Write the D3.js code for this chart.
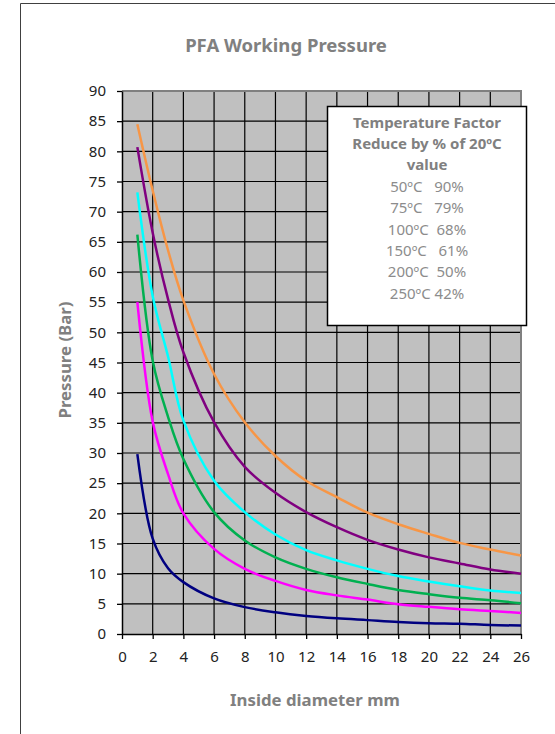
<!DOCTYPE html>
<html><head><meta charset="utf-8">
<script src="https://cdn.jsdelivr.net/npm/d3@7"></script>
<style>
body{margin:0;background:#fff;}
text{font-family:"Noto Sans",sans-serif;}
</style></head>
<body><svg id="c" width="555" height="734"></svg>
<script>
const diameters = [1,2,3,4,6,8,10,12,14,16,18,20,22,24,26];
const orangeSeries  = [84.5,73.5,63.6,55.3,43.1,35.1,29.5,25.4,22.7,20.1,18.2,16.6,15.1,14.0,13.0];
const purpleSeries  = [80.7,66.5,55.5,46.7,35.1,27.7,23.4,20.2,17.7,15.6,14.0,12.7,11.7,10.7,10.0];
const cyanSeries    = [73.2,56.0,46.0,35.4,25.4,20.2,16.5,13.9,12.2,10.8,9.6,8.7,7.9,7.2,6.8];
const greenSeries   = [66.2,45.3,36.0,29.0,20.2,15.5,12.7,10.8,9.4,8.3,7.3,6.6,6.0,5.6,5.1];
const magentaSeries = [55.0,35.2,26.5,20.0,14.1,10.8,8.8,7.3,6.4,5.7,4.95,4.5,4.1,3.8,3.5];
const navySeries    = [29.8,15.8,10.9,8.6,5.9,4.45,3.6,3.0,2.6,2.3,2.0,1.8,1.7,1.5,1.4];
const seriesColors  = ["#f79646","#800080","#00ffff","#00b050","#ff00ff","#000080"];
const xTicks = d3.range(0,27,2);
const yTicks = d3.range(0,91,5);
const chartTitle = "PFA Working Pressure";
const xTitle = "Inside diameter mm";
const yTitle = "Pressure (Bar)";
const legendHeader = ["Temperature Factor","Reduce by % of 20ºC","value"];
const legendRows = ["50ºC   90%","75ºC   79%","100ºC  68%","150ºC   61%","200ºC  50%","250ºC 42%"];

const svg = d3.select("#c");
const L=122,R=521,T=91,B=634;
const x = d3.scaleLinear().domain([0,26]).range([L,R]);
const y = d3.scaleLinear().domain([0,90]).range([B,T]);

// outer frame
svg.append("path").attr("d","M20.5,734 V3.5 H555").attr("fill","none").attr("stroke","#404040").attr("stroke-width",1);

svg.append("text").attr("x",286).attr("y",52).attr("text-anchor","middle")
  .attr("font-size",18.5).attr("font-weight","bold").attr("fill","#808080").text(chartTitle);

svg.append("rect").attr("x",L).attr("y",T).attr("width",R-L).attr("height",B-T).attr("fill","#c0c0c0");

// grid
svg.append("g").selectAll("line").data(xTicks.filter(d=>d>0&&d<26)).join("line")
  .attr("x1",d=>x(d)).attr("x2",d=>x(d)).attr("y1",T).attr("y2",B).attr("stroke","#000").attr("stroke-width",1.2);
svg.append("g").selectAll("line").data(yTicks.filter(d=>d>0&&d<90)).join("line")
  .attr("y1",d=>y(d)).attr("y2",d=>y(d)).attr("x1",L).attr("x2",R).attr("stroke","#000").attr("stroke-width",1.2);
// top/right border
svg.append("path").attr("d",`M${L},${T} H${R} V${B}`).attr("fill","none").attr("stroke","#808080").attr("stroke-width",2);

// axes
const xa = svg.append("g").attr("transform",`translate(0,${B})`)
  .call(d3.axisBottom(x).tickValues(xTicks).tickSize(5).tickPadding(12).tickSizeOuter(0));
const ya = svg.append("g").attr("transform",`translate(${L},0)`)
  .call(d3.axisLeft(y).tickValues(yTicks).tickSize(5).tickPadding(11).tickSizeOuter(0));
[xa,ya].forEach(g=>{
  g.select(".domain").attr("stroke","#000").attr("stroke-width",1.5);
  g.selectAll(".tick line").attr("stroke","#000").attr("stroke-width",1.3);
  g.selectAll("text").attr("font-family","Noto Sans").attr("font-size",15).attr("fill","#222");
});

// curves
const allSeries=[orangeSeries,purpleSeries,cyanSeries,greenSeries,magentaSeries,navySeries];
const line = d3.line().x((d,i)=>x(diameters[i])).y(d=>y(d)).curve(d3.curveCatmullRom.alpha(0.5));
svg.append("g").selectAll("path").data(allSeries.slice().reverse()).join("path")
  .attr("d",d=>line(d)).attr("fill","none")
  .attr("stroke",(d,i)=>seriesColors[allSeries.length-1-i]).attr("stroke-width",2.5);

// axis titles
svg.append("text").attr("x",315).attr("y",706).attr("text-anchor","middle")
  .attr("font-size",16.8).attr("font-weight","bold").attr("fill","#808080").text(xTitle);
svg.append("text").attr("transform","translate(71,360) rotate(-90)").attr("text-anchor","middle")
  .attr("font-size",16.8).attr("font-weight","bold").attr("fill","#808080").text(yTitle);

// legend box
svg.append("rect").attr("x",327.5).attr("y",106.5).attr("width",199).attr("height",219)
  .attr("fill","#fff").attr("stroke","#000").attr("stroke-width",1.5);
const lg = svg.append("g");
lg.selectAll("text.h").data(legendHeader).join("text").attr("class","h")
  .attr("x",427).attr("y",(d,i)=>128+i*21).attr("text-anchor","middle")
  .attr("font-size",15).attr("font-weight","bold").attr("fill","#808080").text(d=>d);
lg.selectAll("text.r").data(legendRows).join("text").attr("class","r")
  .attr("x",427).attr("y",(d,i)=>192+i*21.3).attr("text-anchor","middle")
  .style("white-space","pre").attr("font-size",15).attr("fill","#8c8c8c").text(d=>d);
</script></body></html>
